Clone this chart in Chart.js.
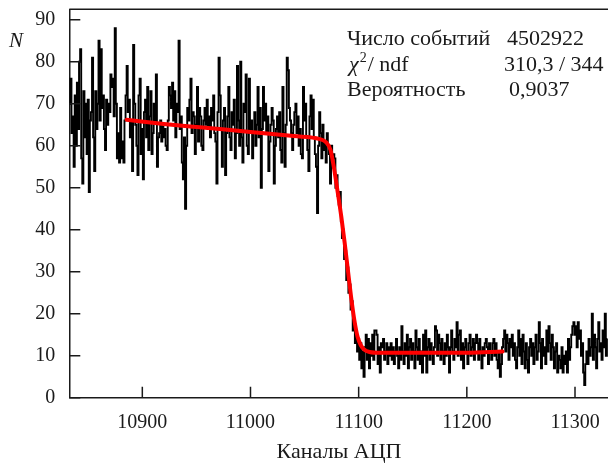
<!DOCTYPE html>
<html><head><meta charset="utf-8">
<script src="https://cdn.jsdelivr.net/npm/chart.js@4"></script>
<style>html,body{margin:0;padding:0;background:#fff}#c{display:block}</style>
</head><body>
<canvas id="c" width="608" height="464"></canvas>
<script>
const firstChannel = 10833;
const counts = [
70,76,63,67,55,72,60,75,64,80,83,57,51,73,62,70,58,71,49,66,68,81,62,54,73,64,70,85,66,83,
69,72,64,59,71,65,70,68,77,74,76,67,88,70,57,63,56,69,57,61,56,66,72,79,68,71,62,66,54,84,
70,65,60,53,72,76,58,64,52,68,71,62,74,59,67,73,58,63,70,66,77,55,62,
63,66,61,65,62,64,60,59,66,74,72,69,75,66,73,62,70,68,85,64,67,56,52,62,45,60,69,66,71,76,
63,68,67,58,65,74,61,69,67,60,59,66,69,65,71,64,67,62,69,66,72,63,61,51,68,81,72,64,55,66,
69,53,63,67,74,62,59,68,65,71,57,63,79,66,60,80,62,56,70,68,77,60,58,
76,64,66,57,63,68,60,65,74,62,69,50,64,74,66,70,63,67,54,61,65,69,66,51,60,64,67,62,68,59,
56,74,63,55,65,81,78,69,66,63,59,65,68,70,63,67,60,64,58,57,74,66,70,62,59,54,67,72,64,71,
62,58,55,44,60,68,63,57,65,59,61,56,63,60,58,51,60,55,58,57,50,53,48,46,49,42,38,40,33,35,
28,31,25,27,21,23,16,18,13,15,11,14,9,13,7,
11,5,12,15,9,14,7,13,10,15,9,16,16,15,8,12,6,13,12,14,9,11,13,8,12,10,13,9,12,8,
11,14,10,7,12,9,17,11,8,13,10,15,7,12,14,9,13,11,7,16,12,9,14,8,11,6,15,10,16,6,
12,14,9,13,11,8,12,17,16,10,15,13,9,14,11,8,13,10,15,12,6,12,16,11,9,14,12,18,10,15,
16,9,13,7,12,14,11,8,13,15,10,12,14,9,13,15,
13,9,14,11,7,12,10,13,14,12,8,13,11,9,13,14,10,13,9,7,11,5,8,12,14,16,11,15,13,9,
14,12,15,10,13,9,7,12,16,10,14,8,15,11,7,13,9,6,12,14,10,13,8,12,15,9,11,18,13,7,
14,10,12,8,16,11,17,13,9,15,12,7,11,13,6,10,9,7,12,6,10,8,11,6,14,9,12,15,17,18,
15,17,12,18,14,16,10,13,6,3,8,11,8,14,10,12,20,9,15,12,7,14,18,11,13,9,16,12,20,10,14
];
const fitX = [10885.5,10920,10953,11000,11040,11064,11070,11074,11077,11080,11084,11087,11090,11093,11096,11099,11102,11105,11110,11120,11200,11233];
const fitY = [66.2,65.2,64.4,63.3,62.3,61.6,60.8,59,55,50,43,37,30.5,24,18.5,14.5,12.5,11.5,10.9,10.7,10.7,11];
const xTicks = [10900,11000,11100,11200,11300];
const yTicks = [0,10,20,30,40,50,60,70,80,90];
const statLabels = ['Число событий','/ ndf','Вероятность'];
const statValues = ['4502922','310,3 / 344','0,9037'];
const xTitle = 'Каналы АЦП';
const yTitle = 'N';

const histData = counts.map((v,i)=>({x:firstChannel+i,y:v}));
const fitData = fitX.map((x,i)=>({x:x,y:fitY[i]}));
const SERIF = "'Liberation Serif','Times New Roman',serif";
const INK = '#1a1a1a';

const deco = {
  id:'deco',
  afterDatasetsDraw(chart){
    const ctx = chart.ctx, a = chart.chartArea;
    const xs = chart.scales.x, ys = chart.scales.y;
    ctx.save();
    ctx.strokeStyle = INK; ctx.lineWidth = 1.5;
    ctx.beginPath(); ctx.moveTo(a.left, a.top); ctx.lineTo(a.right, a.top); ctx.stroke();
    ctx.beginPath();
    yTicks.forEach(v=>{const y=ys.getPixelForValue(v); ctx.moveTo(a.left,y); ctx.lineTo(a.left+11,y);});
    xTicks.forEach(v=>{const x=xs.getPixelForValue(v); ctx.moveTo(x,a.bottom); ctx.lineTo(x,a.bottom-11);});
    ctx.stroke();
    ctx.fillStyle = INK;
    ctx.textBaseline = 'alphabetic'; ctx.textAlign='left';
    ctx.font = '22px '+SERIF;
    ctx.fillText(statLabels[0], 347, 45);
    ctx.font = 'italic 22px '+SERIF;
    ctx.fillText('\u03c7', 349, 71);
    let w = ctx.measureText('\u03c7').width;
    ctx.font = '14px '+SERIF;
    ctx.fillText('2', 349+w+1, 62);
    let w2 = ctx.measureText('2').width;
    ctx.font = '22px '+SERIF;
    ctx.fillText(statLabels[1], 349+w+w2+2, 71);
    ctx.fillText(statLabels[2], 347, 96);
    ctx.fillText(statValues[0], 507, 45);
    ctx.fillText(statValues[1], 504, 71);
    ctx.fillText(statValues[2], 509, 96);
    ctx.font = 'italic 21px '+SERIF;
    ctx.textAlign='center'; ctx.textBaseline='middle';
    ctx.fillText(yTitle, 16, 41);
    ctx.font = '22px '+SERIF;
    ctx.fillText(xTitle, 339, 452);
    ctx.restore();
  }
};

function zeroPad(s){ s.paddingTop=0; s.paddingBottom=0; s.paddingLeft=0; s.paddingRight=0; }

new Chart(document.getElementById('c'), {
  type:'line',
  data:{datasets:[
    {data:fitData, borderColor:'#ff0000', borderWidth:4, pointRadius:0, cubicInterpolationMode:'monotone', order:0, borderCapStyle:'round'},
    {data:histData, borderColor:'#000', borderWidth:1.9, pointRadius:0, stepped:'middle', order:1}
  ]},
  options:{
    responsive:false, animation:false, events:[],
    layout:{padding:{top:9.3,right:0,left:0,bottom:0}},
    plugins:{legend:{display:false}, tooltip:{enabled:false}},
    scales:{
      x:{type:'linear', min:10832.5, max:11330.5,
        afterBuildTicks(s){s.ticks = xTicks.map(v=>({value:v}));},
        afterFit(s){s.height = 66.3; zeroPad(s);},
        grid:{display:false, drawTicks:false},
        border:{display:true, color:INK, width:1.5},
        ticks:{padding:13, color:INK, font:{family:SERIF, size:20}, callback:v=>String(v), maxRotation:0, autoSkip:false}
      },
      y:{type:'linear', min:0, max:92.5,
        afterBuildTicks(s){s.ticks = yTicks.map(v=>({value:v}));},
        afterFit(s){s.width = 69.3; zeroPad(s);},
        grid:{display:false, drawTicks:false},
        border:{display:true, color:INK, width:1.5},
        ticks:{padding:14, color:INK, font:{family:SERIF, size:20}, callback:v=>String(v), autoSkip:false}
      }
    }
  },
  plugins:[deco]
});
</script>
</body></html>
